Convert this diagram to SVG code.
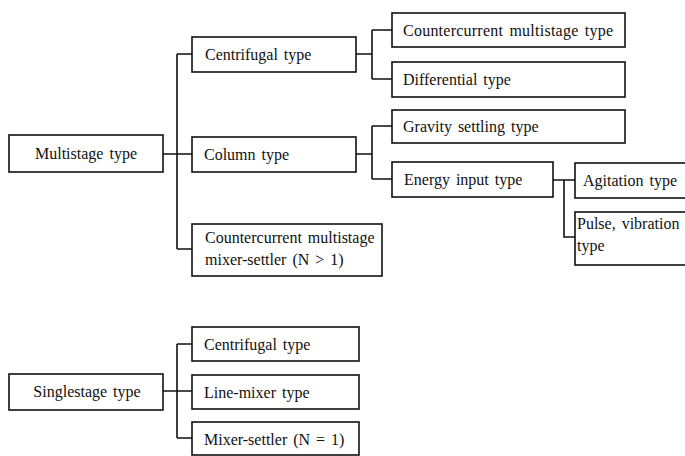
<svg xmlns="http://www.w3.org/2000/svg" width="685" height="456" viewBox="0 0 685 456">
<style>
rect{fill:#fff;stroke:#111;stroke-width:1.6}
text{font-family:"Liberation Serif","Times New Roman",serif;font-size:16px;fill:#111;word-spacing:2px}
.c{text-anchor:middle}
#connectors path{fill:none;stroke:#111;stroke-width:1.6}
</style>
<rect x="0" y="0" width="685" height="456" style="fill:#fff;stroke:none"/>
<g id="connectors">
<path d="M163,154 H177 M177,54 V249 M177,54 H192 M177,154 H192 M177,249 H192"/>
<path d="M356,54 H372 M372,30 V79 M372,30 H392 M372,79 H392"/>
<path d="M356,154 H372 M372,126 V179 M372,126 H392 M372,179 H392"/>
<path d="M553,180 H575 M564,180 V237 H575"/>
<path d="M163,391 H177 M177,344 V438 M177,344 H192 M177,391 H192 M177,438 H192"/>
</g>
<g id="multistage"><rect x="9" y="135" width="154" height="37"/><text class="c" x="86" y="159">Multistage type</text></g>
<g id="centrifugal-m"><rect x="192" y="37" width="164" height="35"/><text x="205" y="60">Centrifugal type</text></g>
<g id="column"><rect x="192" y="137" width="164" height="35"/><text x="204" y="160">Column type</text></g>
<g id="cc-mixer-settler"><rect x="192" y="224" width="190" height="52"/><text x="205" y="243">Countercurrent multistage</text><text x="205" y="265">mixer-settler  (N &gt; 1)</text></g>
<g id="cc-multistage"><rect x="392" y="13" width="233" height="34"/><text x="403" y="36" textLength="210">Countercurrent multistage type</text></g>
<g id="differential"><rect x="392" y="62" width="233" height="35"/><text x="403" y="85">Differential type</text></g>
<g id="gravity"><rect x="392" y="110" width="233" height="33"/><text x="403" y="132">Gravity settling type</text></g>
<g id="energy"><rect x="392" y="162" width="161" height="35"/><text x="404" y="185">Energy input type</text></g>
<g id="agitation"><rect x="575" y="163" width="130" height="35"/><text x="583" y="186">Agitation type</text></g>
<g id="pulse"><rect x="575" y="212" width="130" height="53"/><text x="577" y="229">Pulse, vibration</text><text x="577" y="251">type</text></g>
<g id="singlestage"><rect x="9" y="374" width="154" height="36"/><text class="c" x="87" y="397">Singlestage type</text></g>
<g id="centrifugal-s"><rect x="192" y="327" width="167" height="34"/><text x="204" y="350">Centrifugal type</text></g>
<g id="line-mixer"><rect x="192" y="375" width="167" height="34"/><text x="204" y="398">Line-mixer type</text></g>
<g id="mixer-settler"><rect x="192" y="422" width="167" height="33"/><text x="204" y="445">Mixer-settler (N = 1)</text></g>
</svg>
